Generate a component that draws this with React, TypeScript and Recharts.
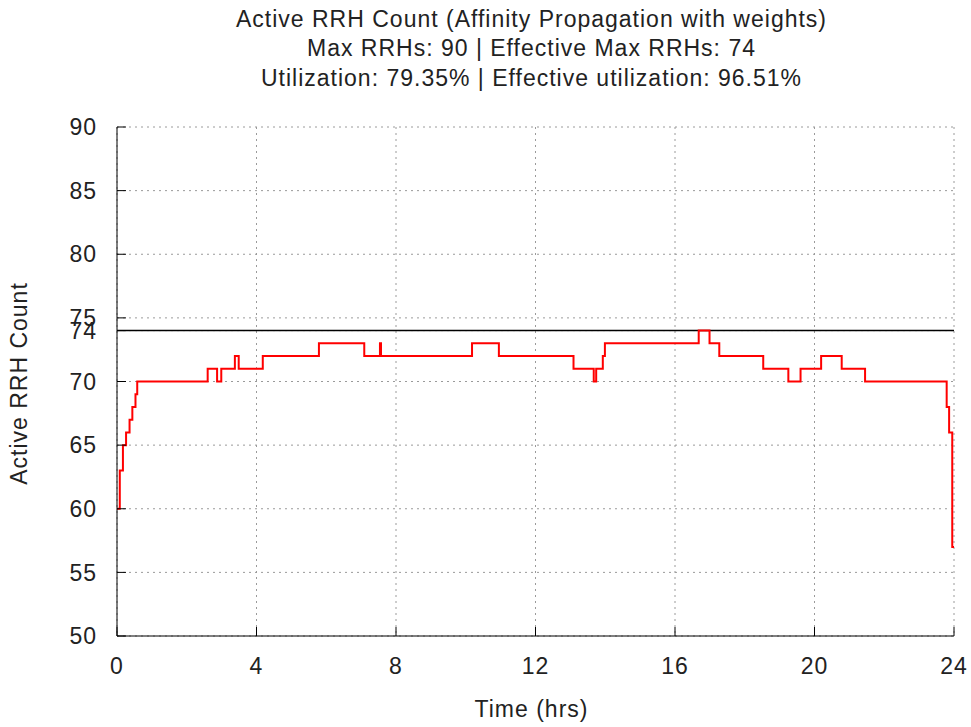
import React from 'react';
import { LineChart, Line, XAxis, YAxis, CartesianGrid, ReferenceLine } from 'recharts';

// step change points: time (hrs) and active RRH count from that time on
const times = [0, 0.08, 0.17, 0.26, 0.36, 0.44, 0.53, 0.58, 2.6, 2.87, 2.99, 3.38, 3.49, 4.18, 5.79, 7.09, 7.54, 7.57, 10.18, 10.95, 13.09, 13.67, 13.74, 13.93, 13.99, 16.68, 16.99, 17.27, 18.53, 19.25, 19.6, 20.19, 20.78, 21.45, 23.79, 23.86, 23.95, 24];
const counts = [60, 63, 65, 66, 67, 68, 69, 70, 71, 70, 71, 72, 71, 72, 73, 72, 73, 72, 73, 72, 71, 70, 71, 72, 73, 74, 73, 72, 71, 70, 71, 72, 71, 70, 68, 66, 57, 57];

const xTicks = [0, 4, 8, 12, 16, 20, 24];
const yTicks = [50, 55, 60, 65, 70, 74, 75, 80, 85, 90];
const effectiveMax = 74;

const titleLines = [
  'Active RRH Count (Affinity Propagation with weights)',
  'Max RRHs: 90 | Effective Max RRHs: 74',
  'Utilization: 79.35% | Effective utilization: 96.51%',
];

const data = times.map((t, i) => ({ t, count: counts[i] }));

const font = '"Liberation Sans", Arial, sans-serif';
const textColor = '#222';
const tickStyle = { fill: textColor, fontSize: 23, fontFamily: font, letterSpacing: 1 };
const labelText: React.CSSProperties = { fontSize: 23, lineHeight: '29px', letterSpacing: 1, whiteSpace: 'nowrap', textAlign: 'center' };

export default function App() {
  return (
    <div style={{ position: 'absolute', left: 0, top: 0, width: 971, height: 727, background: '#fff', fontFamily: font, color: textColor }}>
      {titleLines.map((line, i) => (
        <div key={i} style={{ ...labelText, position: 'absolute', left: 0, width: 1063, top: 5 + i * 29.3 }}>
          {line}
        </div>
      ))}
      <div style={{ ...labelText, position: 'absolute', left: 0, width: 1063, top: 695 }}>Time (hrs)</div>
      <div
        style={{ ...labelText, position: 'absolute', left: 19.3 - 150, top: 383 - 14.5, width: 300, height: 29, transform: 'rotate(-90deg)' }}
      >
        Active RRH Count
      </div>
      <LineChart
        width={971}
        height={727}
        data={data}
        margin={{ top: 127, right: 17, bottom: 31, left: 0 }}
        style={{ position: 'absolute', left: 0, top: 0 }}
      >
        <CartesianGrid stroke="#9a9a9a" strokeDasharray="2 4" />
        <XAxis
          dataKey="t"
          type="number"
          domain={[0, 24]}
          ticks={xTicks}
          interval={0}
          height={60}
          axisLine={{ stroke: '#000' }}
          tickLine={{ stroke: '#000' }}
          tickSize={-9}
          tickMargin={31}
          tick={tickStyle}
        />
        <XAxis
          xAxisId="top"
          orientation="top"
          type="number"
          domain={[0, 24]}
          ticks={xTicks}
          interval={0}
          height={0}
          axisLine={{ stroke: '#000' }}
          tickLine={{ stroke: '#000' }}
          tickSize={-9}
          tick={false}
        />
        <YAxis
          type="number"
          domain={[50, 90]}
          ticks={yTicks}
          interval={0}
          width={117}
          axisLine={{ stroke: '#000' }}
          tickLine={{ stroke: '#000' }}
          tickSize={-9}
          tickMargin={29}
          tick={tickStyle}
        />
        <YAxis
          yAxisId="right"
          orientation="right"
          type="number"
          domain={[50, 90]}
          ticks={yTicks}
          interval={0}
          width={0}
          axisLine={{ stroke: '#000' }}
          tickLine={{ stroke: '#000' }}
          tickSize={-9}
          tick={false}
        />
        <ReferenceLine y={effectiveMax} stroke="#000" strokeWidth={1.5} />
        <Line
          type="stepAfter"
          dataKey="count"
          stroke="#ff0000"
          strokeWidth={2}
          dot={false}
          isAnimationActive={false}
        />
      </LineChart>
    </div>
  );
}
